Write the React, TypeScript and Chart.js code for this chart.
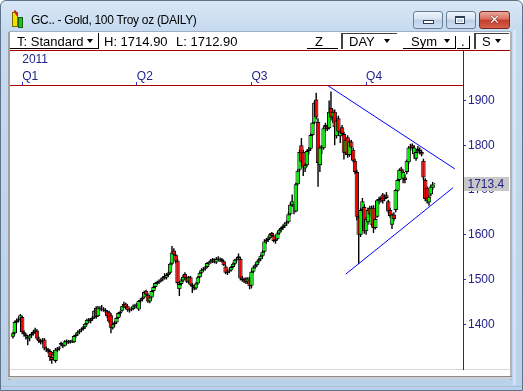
import React, { useEffect, useRef } from 'react';
import { Chart, registerables } from 'chart.js';
Chart.register(...registerables);

// ---- data (daily gold futures candles, late Dec 2010 .. Nov 2011) ----
const opens = [1372,1380,1405,1409,1410,1416,1382,1377,1372,1368,1375,1379,1383,1386,1368,1360,1363,1366,1346,1344,1340,1327,1338,1318,1343,1345,1358,1354,1352,1362,1359,1361,1362,1360,1374,1377,1383,1386,1389,1393,1401,1410,1407,1411,1415,1437,1418,1436,1434,1433,1432,1429,1427,1420,1392,1400,1404,1414,1424,1430,1440,1446,1440,1431,1433,1434,1440,1442,1433,1452,1455,1460,1475,1466,1451,1460,1474,1483,1492,1495,1497,1500,1508,1504,1510,1515,1535,1565,1555,1542,1478,1490,1498,1512,1503,1495,1505,1488,1484,1480,1491,1505,1515,1522,1524,1528,1537,1538,1543,1545,1538,1546,1544,1545,1541,1529,1515,1518,1520,1528,1535,1544,1552,1546,1502,1500,1502,1494,1500,1486,1517,1527,1532,1540,1545,1553,1562,1585,1588,1593,1604,1598,1586,1590,1603,1610,1615,1619,1625,1628,1646,1667,1651,1652,1713,1745,1800,1785,1748,1755,1787,1792,1823,1850,1902,1852,1755,1795,1793,1845,1842,1838,1883,1862,1875,1820,1860,1820,1840,1825,1783,1818,1778,1808,1790,1765,1740,1640,1600,1655,1662,1608,1628,1660,1622,1660,1615,1640,1677,1680,1690,1680,1688,1675,1655,1622,1645,1655,1698,1722,1748,1725,1728,1740,1762,1795,1800,1780,1770,1792,1786,1785,1765,1722,1705,1672,1690,1705,1713];
const highs = [1383,1408,1413,1416,1423,1419,1386,1380,1376,1378,1382,1386,1392,1389,1372,1366,1369,1369,1350,1347,1344,1334,1342,1347,1349,1351,1361,1358,1364,1366,1365,1365,1366,1376,1380,1386,1389,1392,1396,1403,1412,1414,1414,1418,1432,1440,1441,1440,1443,1438,1436,1431,1430,1425,1404,1407,1416,1427,1430,1441,1450,1448,1442,1436,1438,1444,1446,1448,1454,1458,1462,1475,1477,1469,1462,1476,1486,1494,1497,1500,1503,1507,1514,1512,1517,1538,1575,1570,1558,1546,1494,1502,1510,1516,1507,1508,1508,1492,1488,1494,1507,1518,1525,1528,1530,1539,1541,1546,1548,1547,1550,1552,1549,1548,1543,1532,1522,1525,1530,1538,1546,1550,1558,1550,1508,1504,1505,1505,1506,1520,1530,1535,1542,1548,1556,1565,1590,1592,1596,1604,1606,1600,1594,1606,1613,1618,1622,1628,1632,1650,1672,1690,1668,1716,1746,1790,1816,1790,1760,1790,1796,1826,1852,1898,1917,1860,1800,1800,1842,1850,1845,1900,1920,1880,1880,1862,1866,1835,1845,1830,1818,1822,1812,1812,1795,1770,1745,1645,1660,1682,1668,1640,1660,1665,1665,1666,1640,1680,1685,1686,1693,1690,1695,1678,1660,1648,1650,1702,1725,1748,1752,1745,1735,1768,1798,1803,1804,1800,1790,1798,1795,1790,1770,1726,1708,1690,1712,1718,1714.9];
const lows = [1368,1377,1401,1404,1407,1378,1372,1366,1353,1362,1370,1375,1380,1365,1358,1355,1357,1342,1338,1335,1318,1312,1328,1314,1338,1341,1350,1347,1350,1356,1356,1357,1358,1358,1370,1374,1379,1382,1386,1390,1398,1403,1402,1408,1413,1412,1416,1430,1429,1428,1425,1414,1403,1380,1388,1395,1401,1412,1418,1428,1436,1434,1428,1426,1429,1431,1436,1436,1430,1448,1451,1458,1463,1448,1447,1457,1470,1480,1488,1490,1493,1496,1500,1500,1506,1512,1532,1552,1536,1488,1463,1486,1494,1500,1492,1491,1486,1470,1476,1477,1488,1503,1512,1518,1520,1525,1532,1535,1537,1536,1535,1541,1539,1538,1530,1512,1510,1514,1518,1525,1532,1540,1545,1498,1495,1492,1490,1490,1478,1480,1514,1524,1529,1536,1542,1550,1560,1580,1584,1590,1594,1583,1580,1588,1600,1606,1611,1615,1620,1625,1643,1662,1646,1650,1710,1742,1758,1731,1740,1752,1780,1788,1820,1847,1858,1707,1740,1780,1790,1830,1832,1835,1855,1850,1800,1815,1825,1805,1820,1768,1778,1772,1774,1790,1762,1735,1632,1535,1595,1645,1602,1600,1622,1640,1618,1604,1612,1638,1668,1672,1670,1675,1680,1648,1638,1613,1630,1650,1695,1718,1738,1715,1715,1735,1758,1788,1790,1770,1765,1782,1780,1775,1722,1675,1670,1665,1686,1700,1712.9];
const closes = [1380,1405,1409,1411,1420,1382,1377,1374,1368,1375,1379,1383,1388,1368,1362,1364,1361,1346,1344,1340,1326,1320,1332,1343,1345,1348,1354,1352,1362,1359,1362,1363,1361,1374,1377,1383,1386,1389,1393,1401,1410,1407,1411,1415,1430,1416,1437,1434,1433,1432,1429,1418,1406,1392,1400,1404,1414,1425,1428,1440,1445,1437,1431,1433,1435,1440,1442,1440,1452,1455,1460,1472,1466,1451,1460,1474,1483,1492,1495,1497,1500,1505,1504,1510,1515,1535,1560,1555,1540,1492,1490,1498,1506,1503,1495,1505,1488,1484,1480,1491,1505,1515,1522,1524,1527,1537,1538,1543,1545,1538,1546,1544,1545,1541,1532,1515,1518,1520,1528,1535,1544,1547,1548,1502,1499,1497,1494,1502,1485,1517,1527,1532,1540,1545,1553,1562,1585,1588,1593,1601,1597,1586,1590,1603,1610,1615,1619,1625,1628,1646,1667,1675,1650,1713,1743,1785,1763,1750,1755,1787,1792,1823,1850,1895,1862,1760,1795,1793,1838,1840,1836,1875,1862,1875,1840,1855,1830,1830,1825,1783,1812,1778,1808,1795,1765,1740,1640,1600,1655,1675,1608,1635,1655,1645,1660,1615,1635,1677,1680,1682,1675,1686,1682,1652,1642,1645,1635,1700,1722,1745,1742,1740,1722,1765,1795,1797,1794,1795,1785,1788,1790,1779,1728,1680,1676,1685,1708,1712,1713.4];

const quarterTicks = [5, 67, 129, 191];
const quarterLabels = ['Q1', 'Q2', 'Q3', 'Q4'];
const yearLabel = '2011';
const priceTicks = [1400, 1500, 1600, 1700, 1800, 1900];

// triangle trend lines (session index, price)
const upperTrendX = [170, 239];
const upperTrendY = [1934, 1747];
const lowerTrendX = [180, 238];
const lowerTrendY = [1512, 1705];

const FONT = '"Liberation Sans", Arial, sans-serif';
const NAVY = '#22228a';
const GREEN = '#00f000';
const RED = '#f00000';
const DARKRED = '#a80000';

function Arrow({ left, top }: { left: number; top: number }) {
  return (
    <div style={{ position: 'absolute', left, top, width: 0, height: 0, borderLeft: '3.5px solid transparent', borderRight: '3.5px solid transparent', borderTop: '4px solid #000' }} />
  );
}

function CandleChart() {
  const ref = useRef<HTMLCanvasElement>(null);
  useEffect(() => {
    const idx = closes.map((_, i) => i);
    const bodies = idx.map((i) => ({ x: i, y: [opens[i], closes[i]] }));
    const wicks = idx.map((i) => ({ x: i, y: [lows[i], highs[i]] }));
    const bodyColors = idx.map((i) => (closes[i] >= opens[i] ? GREEN : RED));
    const lastClose = closes[closes.length - 1];
    const upper = upperTrendX.map((x, k) => ({ x, y: upperTrendY[k] }));
    const lower = lowerTrendX.map((x, k) => ({ x, y: lowerTrendY[k] }));

    const priceTag = {
      id: 'priceTag',
      afterDraw(chart: any) {
        const { ctx, chartArea } = chart;
        const y = Math.round(chart.scales.y.getPixelForValue(lastClose));
        const left = chartArea.right + 1;
        ctx.save();
        ctx.fillStyle = '#c8c8c8';
        ctx.fillRect(left, y - 7, 45, 14);
        ctx.fillStyle = NAVY;
        ctx.font = '12px ' + FONT;
        ctx.textBaseline = 'middle';
        ctx.textAlign = 'left';
        ctx.fillText(lastClose.toFixed(1), left + 3.5, y + 0.5);
        ctx.restore();
      },
    };

    const chart = new Chart(ref.current as HTMLCanvasElement, {
      type: 'bar',
      data: {
        datasets: [
          { type: 'line', data: upper as any, borderColor: '#0000ff', borderWidth: 1, pointRadius: 0, order: 0 } as any,
          { type: 'line', data: lower as any, borderColor: '#0000ff', borderWidth: 1, pointRadius: 0, order: 0 } as any,
          {
            type: 'bar', data: bodies as any, backgroundColor: bodyColors, borderColor: '#000000', borderWidth: 1,
            borderSkipped: false, grouped: false, barPercentage: 3, maxBarThickness: 4.6, inflateAmount: 0, order: 1,
          } as any,
          {
            type: 'bar', data: wicks as any, backgroundColor: '#000000', borderWidth: 0,
            grouped: false, barPercentage: 1, maxBarThickness: 1.4, inflateAmount: 0, order: 2,
          } as any,
        ],
      },
      options: {
        responsive: false,
        animation: false,
        devicePixelRatio: 1,
        events: [],
        layout: { padding: 0 },
        plugins: { legend: { display: false }, tooltip: { enabled: false } },
        scales: {
          x: {
            type: 'linear', position: 'top', min: -1.6, max: 243.4, offset: false,
            grid: { display: true, drawOnChartArea: false, drawTicks: true, tickLength: 3, color: '#2a2ad0', offset: false },
            border: { display: false },
            afterBuildTicks: (axis: any) => { axis.ticks = quarterTicks.map((v) => ({ value: v })); },
            afterFit: (axis: any) => { axis.height = 35; axis.paddingLeft = 0; axis.paddingRight = 0; },
            ticks: {
              autoSkip: false, maxRotation: 0, minRotation: 0, align: 'start', padding: -3.5, color: NAVY,
              font: { family: FONT, size: 12, lineHeight: 1.42 },
              callback: (v: any) => {
                const k = quarterTicks.indexOf(Number(v));
                if (k < 0) return '';
                return k === 0 ? [yearLabel, quarterLabels[0]] : quarterLabels[k];
              },
            },
          } as any,
          y: {
            type: 'linear', position: 'right', min: 1300, max: 1934.5, beginAtZero: false,
            grid: { display: true, drawOnChartArea: false, drawTicks: true, tickLength: 3, color: '#2a2ad0' },
            border: { display: false },
            afterBuildTicks: (axis: any) => { axis.ticks = priceTicks.map((v) => ({ value: v })); },
            afterFit: (axis: any) => { axis.width = 47; axis.paddingTop = 0; axis.paddingBottom = 0; },
            ticks: { padding: 2, color: NAVY, font: { family: FONT, size: 12 }, callback: (v: any) => String(v) },
          } as any,
        },
      },
      plugins: [priceTag],
    });
    return () => chart.destroy();
  }, []);
  return <canvas ref={ref} width={500} height={319} style={{ position: 'absolute', left: 10, top: 50, width: 500, height: 319 }} />;
}

const abs = (s: React.CSSProperties): React.CSSProperties => ({ position: 'absolute', ...s });
const txt = (left: number, top: number, size = 13): React.CSSProperties => ({
  position: 'absolute', left, top, fontSize: size, lineHeight: '16px', color: '#000', whiteSpace: 'nowrap', fontFamily: FONT,
});

export default function App() {
  const last = closes.length - 1;
  const btnBase: React.CSSProperties = {
    position: 'absolute', top: 11, height: 16, width: 28, border: '1px solid #6a7e96', borderRadius: 3,
    background: 'linear-gradient(#eef4fb 0%, #d6e3f2 45%, #bccfe6 50%, #cfe0f3 100%)',
  };
  return (
    <div style={{ position: 'fixed', left: 0, top: 0, width: 523, height: 391, overflow: 'hidden', fontFamily: FONT }}>
      {/* window frame */}
      <div style={abs({ left: 0, top: 0, width: 523, height: 391, boxSizing: 'border-box', border: '1px solid #5f738b', borderRadius: '6px 6px 0 0', background: 'linear-gradient(#d9e7f6 0px, #c6daef 30px, #bad1ea 100%)' })} />
      <div style={abs({ left: 513, top: 30, width: 3, height: 355, background: 'rgba(255,255,255,0.35)' })} />
      {/* icon */}
      <div style={abs({ left: 12, top: 12, width: 4, height: 13, background: '#f2e000', border: '1px solid #7a6a00' })} />
      <div style={abs({ left: 18, top: 17, width: 3, height: 9, background: '#20c020', border: '1px solid #106010' })} />
      <div style={abs({ left: 15, top: 10, width: 2, height: 6, background: '#d02020', transform: 'rotate(-30deg)' })} />
      {/* title */}
      <div style={{ position: 'absolute', left: 31, top: 13, fontSize: 12, lineHeight: '14px', letterSpacing: -0.3, color: '#000', whiteSpace: 'nowrap' }}>GC.. - Gold, 100 Troy oz (DAILY)</div>
      {/* caption buttons */}
      <div style={{ ...btnBase, left: 413 }}>
        <div style={abs({ left: 9, top: 8, width: 9, height: 2, background: '#fff', border: '1px solid #2c3e55' })} />
      </div>
      <div style={{ ...btnBase, left: 446 }}>
        <div style={abs({ left: 8, top: 4, width: 8, height: 5, background: 'transparent', border: '1px solid #2c3e55', borderTopWidth: 2, boxShadow: 'inset 0 0 0 1px #fff' })} />
      </div>
      <div style={{ ...btnBase, left: 479, width: 29, border: '1px solid #7a2a22', background: 'linear-gradient(#e9a99c 0%, #d8705f 45%, #c43b2b 50%, #d7614c 100%)' }}>
        <div style={{ position: 'absolute', left: 0, top: -1, width: 29, textAlign: 'center', fontSize: 13, fontWeight: 'bold', lineHeight: '18px', color: '#fff', fontFamily: '"DejaVu Sans", sans-serif', textShadow: '0 0 1px #3a1010, 0 0 1px #3a1010' }}>✕</div>
      </div>
      {/* toolbar */}
      <div style={abs({ left: 9, top: 31, width: 502, height: 19, background: '#fff', borderTop: '1px solid #9fb0c4' })} />
      <div style={abs({ left: 10, top: 33, width: 88, height: 15, borderRight: '1px solid #000', borderBottom: '1px solid #000' })} />
      <div style={txt(17, 34)}>T: Standard</div>
      <Arrow left={87} top={39} />
      <div style={txt(104, 34)}>{'H: ' + highs[last].toFixed(2)}</div>
      <div style={txt(176, 34)}>{'L: ' + lows[last].toFixed(2)}</div>
      <div style={txt(315, 34)}>Z</div>
      <div style={abs({ left: 307, top: 48, width: 31, height: 1, background: '#000' })} />
      <div style={abs({ left: 341, top: 33, width: 56, height: 16, borderTop: '1px solid #404040', borderLeft: '2px solid #404040', boxSizing: 'border-box' })} />
      <div style={txt(349, 34)}>DAY</div>
      <Arrow left={384} top={39} />
      <div style={txt(411, 34)}>Sym</div>
      <Arrow left={444} top={39} />
      <div style={abs({ left: 403, top: 48, width: 52, height: 1, background: '#000' })} />
      <div style={abs({ left: 455, top: 36, width: 1, height: 13, background: '#000' })} />
      <div style={txt(461, 34)}>.</div>
      <div style={abs({ left: 457, top: 48, width: 13, height: 1, background: '#000' })} />
      <div style={abs({ left: 469, top: 36, width: 1, height: 13, background: '#000' })} />
      <div style={abs({ left: 474, top: 33, width: 35, height: 16, borderTop: '1px solid #404040', borderLeft: '2px solid #404040', boxSizing: 'border-box' })} />
      <div style={txt(482, 34)}>S</div>
      <Arrow left={495} top={39} />
      {/* chart panel */}
      <div style={abs({ left: 10, top: 50, width: 500, height: 320, background: '#fff' })} />
      <div style={abs({ left: 8, top: 32, width: 2, height: 348, background: '#a0a0a0' })} />
      <div style={abs({ left: 510, top: 32, width: 2, height: 348, background: '#b4b4b4' })} />
      <div style={abs({ left: 10, top: 369, width: 500, height: 1, background: '#d8d8d8' })} />
      <div style={abs({ left: 10, top: 370, width: 500, height: 6, background: '#fff' })} />
      <div style={abs({ left: 8, top: 376, width: 504, height: 1, background: '#8c8c8c' })} />
      <div style={abs({ left: 8, top: 377, width: 504, height: 2, background: '#d0d0d0' })} />
      <div style={abs({ left: 1, top: 386, width: 521, height: 1, background: '#a9bfd8' })} />
      <CandleChart />
      {/* panel separators (dark red) drawn over the canvas */}
      <div style={abs({ left: 10, top: 50, width: 500, height: 1, background: DARKRED, pointerEvents: 'none' })} />
      <div style={abs({ left: 10, top: 85, width: 454, height: 1, background: DARKRED, pointerEvents: 'none' })} />
      <div style={abs({ left: 463, top: 50, width: 1, height: 320, background: DARKRED, pointerEvents: 'none' })} />
    </div>
  );
}
